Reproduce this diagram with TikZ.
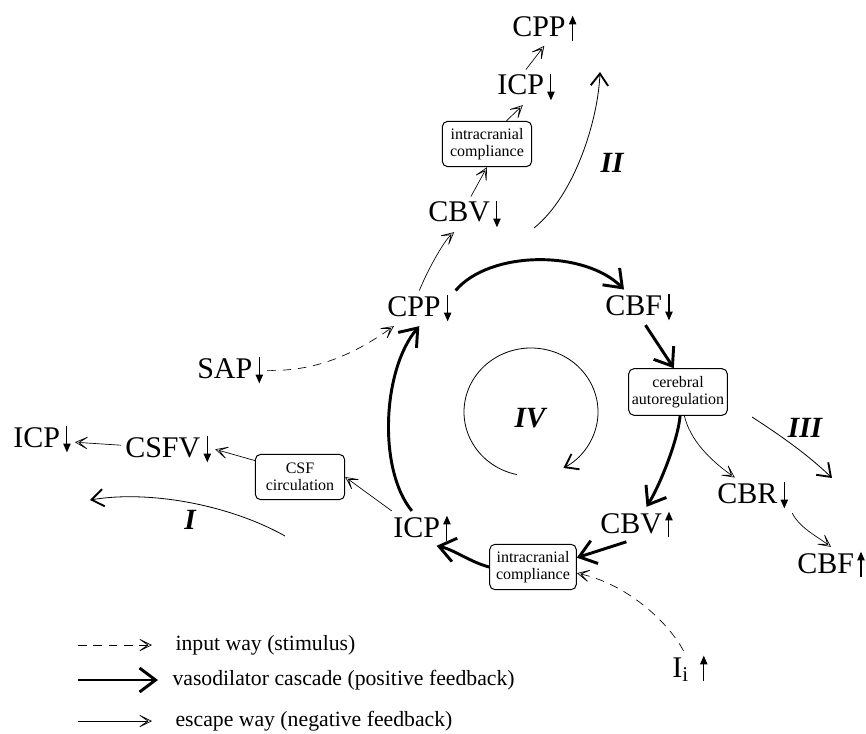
\documentclass[tikz,border=0pt]{standalone}
\usepackage{fontspec}
\setmainfont{Liberation Serif}
\usetikzlibrary{arrows.meta}

\tikzset{every picture/.style={line width=0.75pt}}
\tikzset{
  lbl/.style={anchor=base west, inner sep=3pt, font=\fontsize{22.5}{26}\selectfont},
  mbox/.style={draw, rounded corners=4pt, align=center, inner sep=1pt, minimum width=67pt, minimum height=34pt, font=\fontsize{12}{13}\selectfont},
  numl/.style={inner sep=1pt, font=\fontsize{22}{26}\selectfont\bfseries\itshape},
  leg/.style={anchor=west, inner sep=0pt, font=\fontsize{16.3}{19}\selectfont},
  casc/.style={line width=2.2pt, -{Straight Barb[length=12pt,width=18pt]}},
  esc/.style={line width=0.5pt, -{Stealth[open,length=12pt,width=12pt,inset=8.5pt]}},
  inp/.style={esc, dash pattern=on 6.5pt off 5pt},
  loopway/.style={line width=0.6pt, -{Straight Barb[length=9pt,width=13pt,line width=1.4pt]}},
}
% small arrows after the labels
\newcommand{\dnar}{\hspace{2.5pt}\tikz[baseline=0pt,x=1pt,y=1pt,xscale=1,yscale=1]\draw[line width=0.8pt,-{Triangle[length=6.5pt,width=5.5pt]}] (0,15.5) -- (0,-4);}
\newcommand{\upar}{\hspace{2.5pt}\tikz[baseline=0pt,x=1pt,y=1pt,xscale=1,yscale=1]\draw[line width=0.8pt,-{Triangle[length=6.5pt,width=5.5pt]}] (0,-3) -- (0,16);}

\begin{document}
\begin{tikzpicture}[x=0.75pt,y=0.75pt,yscale=-1,xscale=1]
\useasboundingbox (0,0) rectangle (866,734);

%Labels
\draw (508,37) node [lbl] (cppT) {CPP\upar};
\draw (493,95) node [lbl] (icpT) {ICP\dnar};
\draw (424,222) node [lbl] (cbvT) {CBV\dnar};
\draw (383,316) node [lbl] (cppM) {CPP\dnar};
\draw (601,315) node [lbl] (cbfM) {CBF\dnar};
\draw (193,378) node [lbl] (sap) {SAP\dnar};
\draw (9,447) node [lbl] (icpL) {ICP\dnar};
\draw (121,457) node [lbl] (csfv) {CSFV\dnar};
\draw (389,537) node [lbl] (icpU) {ICP\upar};
\draw (596,533) node [lbl] (cbvU) {CBV\upar};
\draw (713,503) node [lbl] (cbr) {CBR\dnar};
\draw (793,573) node [lbl] (cbfU) {CBF\upar};
\draw (668,677) node [lbl] (ii) {I\textsubscript{i}\hspace{6pt}\upar};

%Boxes
\draw (487,144) node [mbox] (cmpT) {intracranial\\compliance};
\draw (678,392) node [mbox, minimum width=74pt, minimum height=35pt] (autoreg) {cerebral\\autoregulation};
\draw (300,477) node [mbox] (csfc) {CSF\\circulation};
\draw (533,567) node [mbox, minimum width=65pt] (cmpB) {intracranial\\compliance};

%Loop numbers
\draw (612,163) node [numl] (nII) {II};
\draw (805,428) node [numl] (nIII) {III};
\draw (530,418) node [numl] (nIV) {IV};
\draw (190,520) node [numl] (nI) {I};

%Vasodilator cascade
\draw [casc] (cppM.north east) .. controls (490,250) and (585,250) .. (cbfM.130);
\draw [casc] (cbfM.-70) -- (autoreg.100);
\draw [casc] (autoreg.-85) .. controls (678,440) and (660,485) .. (cbvU.60);
\draw [casc] (cbvU.-120) -- (cmpB.12);
\draw [casc] (cmpB.west) .. controls (470,562) and (455,550) .. (icpU.-50);
\draw [casc] (icpU.120) .. controls (378,470) and (382,370) .. (cppM.south);

%Input ways
\draw [inp] (sap.east) .. controls (320,372) and (360,350) .. (cppM.-145);
\draw [inp] (ii.110) .. controls (670,625) and (630,585) .. (cmpB.-8);

%Escape ways
\draw [esc] (cppM.north) .. controls (430,265) and (445,240) .. (cbvT.-120);
\draw [esc] (cbvT.70) -- (cmpT.south);
\draw [esc] (cmpT.50) -- (icpT.-100);
\draw [esc] (icpT.north) -- (cppT.south);
\draw [esc] (autoreg.-75) .. controls (690,440) and (710,460) .. (cbr.135);
\draw [esc] (cbr.south east) .. controls (800,528) and (815,535) .. (cbfU.north);
\draw [esc] (icpU.150) -- (csfc.east);
\draw [esc] (csfc.160) -- (csfv.east);
\draw [esc] (csfv.175) -- (icpL.-5);

%Loops
\coordinate (iiA) at (534,228);
\coordinate (iiB) at (600,72);
\coordinate (iiiA) at (752,417);
\coordinate (iiiB) at (832,478);
\coordinate (iA) at (285,536);
\coordinate (iB) at (90,500);
\draw [loopway] (iiA) .. controls (575,195) and (598,120) .. (iiB);
\draw [loopway] (iiiA) .. controls (775,432) and (805,452) .. (iiiB);
\draw [loopway] (iA) .. controls (230,505) and (150,490) .. (iB);
\draw [loopway] (531,412) ++(102:67 and 64) arc [start angle=102, end angle=421, x radius=67, y radius=64];

%Legend
\coordinate (lg1a) at (78,645);
\coordinate (lg1b) at (152,645);
\coordinate (lg2a) at (78,680);
\coordinate (lg2b) at (158,680);
\coordinate (lg3a) at (78,721);
\coordinate (lg3b) at (152,721);
\draw [inp] (lg1a) -- (lg1b);
\draw [casc] (lg2a) -- (lg2b);
\draw [esc] (lg3a) -- (lg3b);
\draw (175,645) node [leg] (lgt1) {input way (stimulus)};
\draw (172,680) node [leg] (lgt2) {vasodilator cascade (positive feedback)};
\draw (175,721) node [leg] (lgt3) {escape way (negative feedback)};

\end{tikzpicture}
\end{document}
